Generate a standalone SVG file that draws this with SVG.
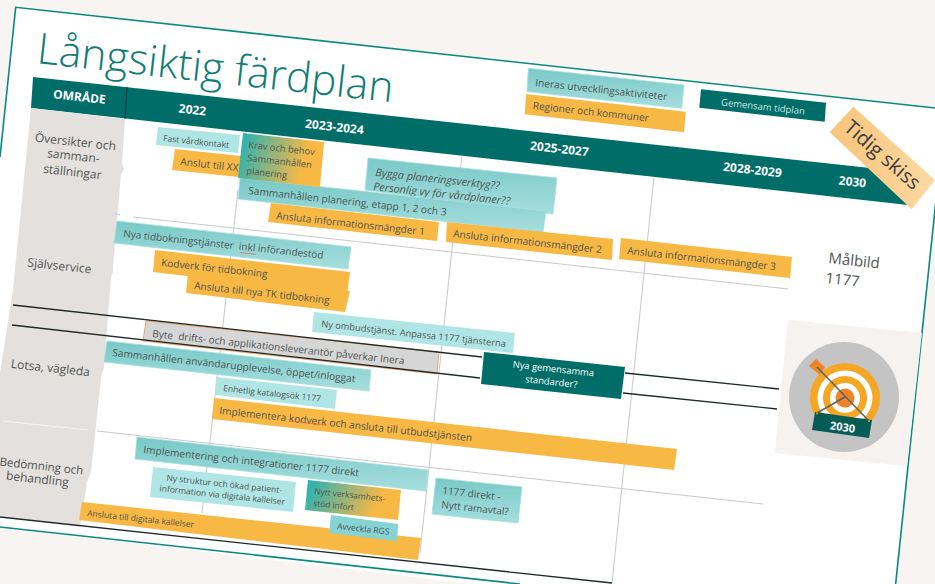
<svg xmlns="http://www.w3.org/2000/svg" width="935" height="584" viewBox="0 0 935 584">
<style>
text{font-family:"Open Sans","Noto Sans","Liberation Sans",sans-serif;fill:#4f5552}
.b{fill:url(#tealG);stroke:#a5e0e0;stroke-width:.8}
.l{fill:#b0e5e5}
.o{fill:#f8b844}
.d{fill:#006d68}
.w{fill:#fff}
.h{fill:#fff;font-weight:700;font-size:12px;text-anchor:middle}
.c{text-anchor:middle}
.g{stroke:#c9c9c9;stroke-width:1;fill:none}
.k{stroke:#1f2a2a;stroke-width:1.3;fill:none}
.r{stroke:#e5665c;stroke-width:.8;fill:none}
</style>
<defs>
<linearGradient id="tealG" x1="0" y1="0" x2="0" y2="1"><stop offset="0" stop-color="#78c9c8"/><stop offset="1" stop-color="#a6dedd"/></linearGradient>
<linearGradient id="mix" x1="0" y1="0" x2="1" y2=".2"><stop offset=".1" stop-color="#35b2ad"/><stop offset=".85" stop-color="#f8b844"/></linearGradient>
<linearGradient id="skiss" x1="0" y1="0" x2="1" y2="0"><stop offset="0" stop-color="#f8c47a"/><stop offset="1" stop-color="#fcd9a3"/></linearGradient>
</defs>
<rect width="935" height="584" fill="#f7f4f1"/>
<g id="page">
<polygon points="15.7,7.3 935,108 940,160 895,590 520,590 0,527 0,157" fill="#fff"/>
<polyline points="0,157 15.7,7.3 935,108" fill="none" stroke="#0b8a80" stroke-width="1.6"/>
<polyline points="936,200 895,590" fill="none" stroke="#0b8a80" stroke-width="1.6"/>
<polyline points="0,527 520,584" fill="none" stroke="#0b8a80" stroke-width="1.6"/>
</g>
<text id="title" transform="translate(36,63) rotate(6.3)" font-size="42.5" font-weight="300" style="fill:#0f7c76">Långsiktig färdplan</text>
<g id="header">
<polygon points="33,77 870,168 908,205 31,108" class="d"/>
<line x1="127" y1="87" x2="125" y2="119" stroke="#123" stroke-width=".8"/>
<text class="h" transform="translate(79,101) rotate(6.2)">OMRÅDE</text>
<text class="h" transform="translate(192,114) rotate(6.2)">2022</text>
<text class="h" transform="translate(334,131) rotate(6.2)">2023-2024</text>
<text class="h" transform="translate(559,153) rotate(6.2)">2025-2027</text>
<text class="h" transform="translate(752,174) rotate(6.2)">2028-2029</text>
<text class="h" font-size="11" transform="translate(852,186) rotate(6.2)">2030</text>
</g>
<g id="area-column">
<polygon points="31,108 125,119 122,164 124,169 121,174 113,267 113,272 111,277 104,368 102,373 101,378 91,472 89,477 87,482 80,527 0,517 0,373 13,290" fill="#e4e0dd"/>
<line x1="3" y1="421" x2="88" y2="430" stroke="#f6f4f2" stroke-width="1"/>
<g font-size="12">
<text class="c" transform="translate(75,146) rotate(6.2)">Översikter och</text>
<text class="c" transform="translate(73,160) rotate(6.2)">samman-</text>
<text class="c" transform="translate(72,176) rotate(6.2)">ställningar</text>
<text class="c" transform="translate(59,270) rotate(6.2)">Självservice</text>
<text class="c" transform="translate(50,372) rotate(6.2)">Lotsa, vägleda</text>
<text class="c" font-size="11.5" transform="translate(41,470) rotate(6.2)">Bedömning och</text>
<text class="c" transform="translate(37,483) rotate(6.2)">behandling</text>
</g>
</g>
<g id="connectors-grid">
<path class="g" d="M238,190L202,513M461.7,157L420,553M654,177L612,583"/>
<path class="g" d="M115,214L120,215M133,217L788,289M97,431L763,504"/>
</g>
<g id="legend-inera"><polygon class="b" points="528.3,68.3 684,85 681.7,108.3 527,91.7"/><text font-size="10.2" transform="translate(535,86) rotate(6.2)">Ineras utvecklingsaktiviteter</text></g>
<g id="legend-regioner"><polygon class="o" points="526,94 685.7,111.7 684,132.3 524.7,114.3"/><text font-size="10.1" transform="translate(532.5,109) rotate(6.2)">Regioner och kommuner</text></g>
<g id="legend-gemensam"><polygon class="d" points="701,89.3 826,102.7 824.7,121.7 699.3,107.7"/><text class="c" font-size="9.5" transform="translate(762.7,110) rotate(6.2)" style="fill:#cfe6e4">Gemensam tidplan</text></g>
<g id="fast"><polygon class="l" points="158,127 240,135 238,153 156,145"/><text font-size="8.5" transform="translate(163,141) rotate(6.2)">Fast vårdkontakt</text></g>
<g id="anslut-xx"><polygon class="o" points="175,149 250,157 248,178 172,170"/><text font-size="10.2" transform="translate(180,165) rotate(6.2)">Anslut till XX</text></g>
<g id="bygga"><polygon class="b" points="368,158 557,178 553,214 365,190"/><g font-size="10.8" font-style="italic"><text transform="translate(375,176) rotate(6.2)">Bygga planeringsverktyg??</text><text transform="translate(373,190) rotate(6.2)">Personlig vy för vårdplaner??</text></g></g>
<g id="planering"><polygon class="b" points="240,178 546,211 543,232 238,199"/><text font-size="10.2" transform="translate(248,194) rotate(6.2)">Sammanhållen planering, etapp 1, 2 och 3</text></g>
<g id="krav"><polygon fill="url(#mix)" points="243,133 324,142 320,187 238,178"/><g font-size="9.3"><text transform="translate(248,148) rotate(6.2)">Krav och behov</text><text transform="translate(247,161) rotate(6.2)">Sammanhållen</text><text transform="translate(246,174) rotate(6.2)">planering</text></g></g>
<g id="info1"><polygon class="o" points="271,203 439,222 437,241 268,222"/><text font-size="10.1" transform="translate(276,219) rotate(6.2)">Ansluta informationsmängder 1</text></g>
<g id="info2"><polygon class="o" points="447,222 613,239 612,260 446,242"/><text font-size="10.1" transform="translate(453,237) rotate(6.2)">Ansluta informationsmängder 2</text></g>
<g id="info3"><polygon class="o" points="621,238 792,257 790,278 619,259"/><text font-size="10.1" transform="translate(627,254) rotate(6.2)">Ansluta informationsmängder 3</text></g>
<g id="tidbokning"><polygon class="b" points="117,221 351,247 348,269 114,243"/><text font-size="10" xml:space="preserve" transform="translate(123,237) rotate(6.2)">Nya tidbokningstjänster  inkl införandestöd</text><path class="r" d="M240,252.5l16,1.8"/></g>
<g id="kodverk-tid"><polygon class="o" points="155,250 350,272 347,295 153,272"/><text font-size="10" transform="translate(161,266) rotate(6.2)">Kodverk för tidbokning</text></g>
<g id="tk"><polygon class="o" points="188,273 350,291 345,312 186,293"/><text font-size="10.1" transform="translate(194,289) rotate(6.2)">Ansluta till nya TK tidbokning</text></g>
<g id="malbild" font-size="15"><text transform="translate(828,263) rotate(6.2)">Målbild</text><text transform="translate(825,283) rotate(6.2)">1177</text></g>
<g id="ombud"><polygon class="l" points="314,312 515,333 513,353 312,332"/><text font-size="9.3" transform="translate(321,327) rotate(6.2)">Ny ombudstjänst. Anpassa 1177 tjänsterna</text></g>
<g id="byte"><polygon fill="#d6d6d6" stroke="#f0a868" stroke-width="1" points="146,321 439,352 437,374 143,341"/><text font-size="10.1" xml:space="preserve" transform="translate(152,337) rotate(6.2)">Byte  drifts- och applikationsleverantör påverkar Inera</text></g>
<g id="connectors-black">
<path class="k" d="M13,305L482,357M625,373L779,389"/>
<path class="k" d="M12,325L480,378M623,393L777,409"/>
<path class="k" d="M0,517L612,583"/>
</g>
<g id="standarder"><polygon class="d" points="484,352 625,367 621,399 481,384"/><g font-size="9.4" style="fill:#fff"><text class="w c" transform="translate(553,372) rotate(6.2)">Nya gemensamma</text><text class="w c" transform="translate(551,385) rotate(6.2)">standarder?</text></g></g>
<g id="anvandar"><polygon class="b" points="107,341 371,370 369,391 104,362"/><text font-size="10.2" transform="translate(112,356) rotate(6.2)">Sammanhållen användarupplevelse, öppet/inloggat</text></g>
<g id="katalog"><polygon class="l" points="216,377 337,390 335,409 215,395"/><text font-size="8.5" transform="translate(223,391) rotate(6.2)">Enhetlig katalogsök 1177</text></g>
<g id="implementera"><polygon class="o" points="214,398 677,449 674,470 212,419"/><text font-size="10.2" transform="translate(219,414) rotate(6.2)">Implementera kodverk och ansluta till utbudstjänsten</text><path class="r" d="M289,421l37,4"/></g>
<g id="direkt-impl"><polygon class="b" points="137,437 428,470 426,491 135,459"/><text font-size="10.2" transform="translate(143,453) rotate(6.2)">Implementering och integrationer 1177 direkt</text></g>
<g id="struktur"><polygon class="l" points="153,467 296,482 293,512 150,497"/><g font-size="8.5"><text class="c" transform="translate(224,487) rotate(6.2)">Ny struktur och ökad patient-</text><text class="c" transform="translate(222,498) rotate(6.2)">information via digitala kallelser</text></g></g>
<g id="kallelser"><polygon class="o" points="82,502 421,538 418,560 79,520"/><text font-size="8.5" transform="translate(87,516) rotate(6.2)">Ansluta till digitala kallelser</text></g>
<g id="verksamhet"><polygon fill="url(#mix)" points="308,480 401,490 398,520 305,510"/><g font-size="8.4"><text transform="translate(314,494) rotate(6.2)">Nytt verksamhets-</text><text transform="translate(313,506) rotate(6.2)">stöd infört</text></g></g>
<g id="rgs"><polygon fill="#86d3d3" points="331,515 398,524 397,541 329,533"/><text font-size="8.5" transform="translate(337,529) rotate(6.2)">Avveckla RGS</text></g>
<g id="ramavtal"><polygon class="b" points="436,478 522,487 518,523 432,514"/><g font-size="10"><text transform="translate(442,494) rotate(6.2)">1177 direkt -</text><text transform="translate(441,508) rotate(6.2)">Nytt ramavtal?</text></g></g>
<g id="target">
<polygon points="788,320 922,333 907,466 775,453" fill="#f5f2ef"/>
<circle cx="844" cy="397" r="55" fill="#c4c4c4"/>
<circle cx="845" cy="398" r="35" fill="#f5a623"/>
<circle cx="845" cy="398" r="27.5" fill="#fff"/>
<circle cx="845" cy="398" r="22" fill="#f5a623"/>
<circle cx="845" cy="398" r="15" fill="#fff"/>
<circle cx="845" cy="398" r="9.5" fill="#ee8427"/>
<polygon points="809,366 816,359 825,367 820,375" fill="#ee8427"/>
<path d="M817,367L868,420M845,397L817,413" stroke="#5d6462" stroke-width="1.5" fill="none"/>
<polygon points="815,412 872,420 869,438 812,430" fill="#055c57"/>
<circle cx="817" cy="413.5" r="1.1" fill="#d8a020"/><circle cx="869" cy="421" r="1.1" fill="#d8a020"/>
<text class="c" transform="translate(842,431) rotate(8)" font-size="11" font-weight="700" style="fill:#fff">2030</text>
</g>
<g id="tidig-skiss"><polygon fill="url(#skiss)" points="853.3,106.7 935,180 911.7,209.3 829.7,132.3"/><text class="c" font-size="20" transform="translate(878,160) rotate(41)" style="fill:#3f3f3f">Tidig skiss</text></g>
</svg>
